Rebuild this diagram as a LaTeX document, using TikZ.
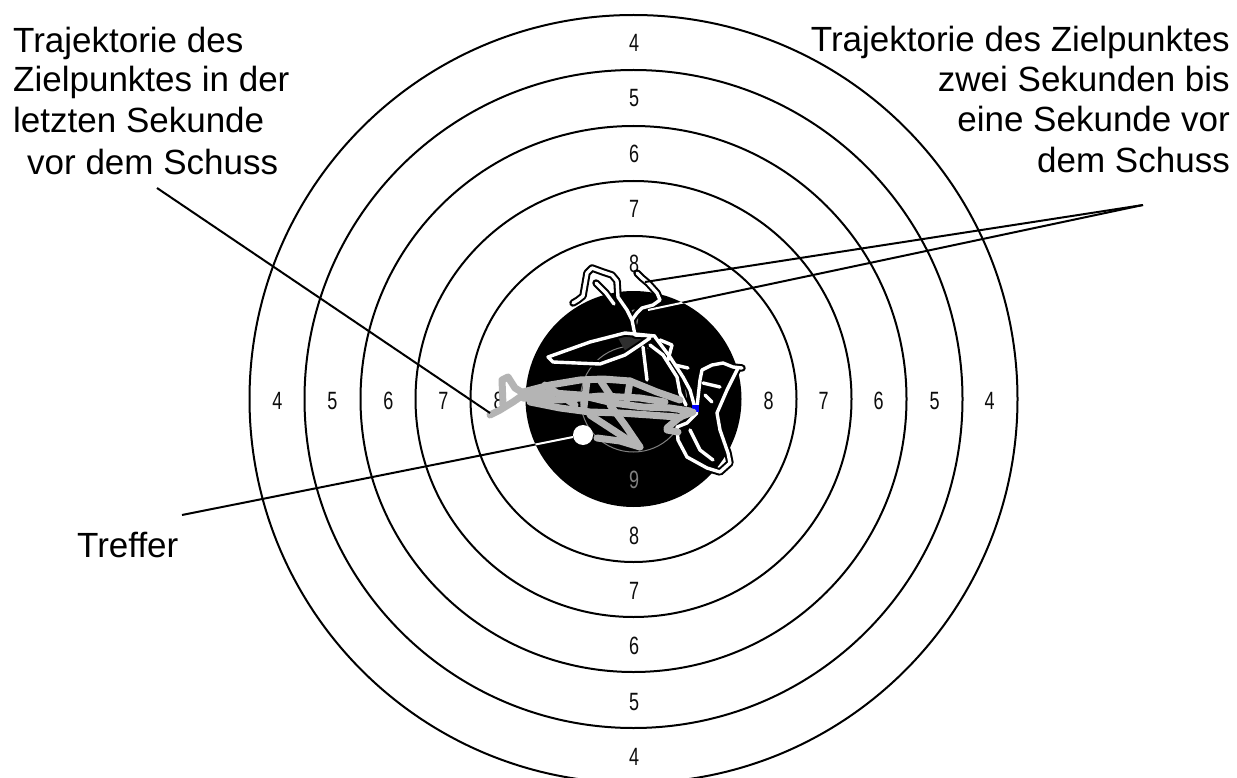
\documentclass[tikz,border=0pt]{standalone}
\usepackage{fontspec}
\setmainfont{Liberation Sans}
\newfontfamily\digitfont[FakeStretch=0.72]{Liberation Sans}
\definecolor{trajgrey}{HTML}{B4B4B4}
\definecolor{wedgegrey}{HTML}{2E2E2E}
\begin{document}
\begin{tikzpicture}[x=1pt,y=-1pt,
  ring/.style={draw=black,line width=2pt},
  num/.style={font=\digitfont\fontsize{25}{25}\selectfont,text=black!95,inner sep=0pt},
  innum/.style={num,text=black!50},
  lbl/.style={font=\fontsize{35}{40}\selectfont,inner sep=0pt},
  leader/.style={line width=2pt},
  wout/.style={draw=black,line width=7.5pt,line join=round,line cap=round},
  win/.style={draw=white,line width=3.4pt,line join=round,line cap=round},
  gtraj/.style={draw=trajgrey,line width=7pt,line join=round,line cap=round}]
\useasboundingbox (0,0) rectangle (1237,778);
\fill[white] (0,0) rectangle (1237,778);
\coordinate (c) at (633.5,399);
% rings
\foreach \r in {384,329,273,218,163} {\draw[ring] (c) circle[radius=\r pt];}
\fill[black] (c) circle[radius=108pt];
\draw[black!50,line width=1pt] (c) circle[radius=53pt];
% ring numbers
\foreach \n/\r in {4/356,5/301,6/245,7/190,8/135} {
  \node[num] (nl\n) at (633.5-\r,401) {\n};
  \node[num] (nr\n) at (633.5+\r,401) {\n};
  \node[num] (nt\n) at (634,399-\r) {\n};
  \node[num] (nb\n) at (634,401+\r) {\n};
}
\node[innum] (nt9) at (634,319) {9};
\node[innum] (nb9) at (634,480) {9};
% dark wedge
\fill[wedgegrey] (618,338) -- (632,333) -- (645,337) -- (640,350) -- (628,356) -- cycle;
% white trajectory (two seconds to one second before the shot)
\foreach \s in {wout,win} {
  \draw[\s] (573,303) -- (578,300) -- (583,296) -- (587,273) -- (592,268) -- (603,272) -- (612,275) -- (617,281) -- (618,297) -- (627,310) -- (632,320) -- (635,335);
  \draw[\s] (596,283) -- (606,293) -- (614,304);
  \draw[\s] (632,320) -- (637,313) -- (642,308) -- (653,305) -- (660,300) -- (657,293) -- (648,283) -- (642,278) -- (637,273);
  \draw[\s] (635,335) -- (655,336) -- (625,333) -- (590,342) -- (548,357) -- (553,362) -- (600,364) -- (625,355) -- (640,345) -- (650,338);
  \draw[\s] (655,337) -- (670,357) -- (683,377) -- (690,390) -- (695,408);
  \draw[\s] (650,345) -- (663,355) -- (677,377) -- (680,393) -- (686,405);
  \draw[\s] (643,347) -- (647,380);
  \draw[\s] (660,340) -- (672,345) -- (668,360);
  \draw[\s] (675,365) -- (688,368);
  \draw[\s] (697,407) -- (700,380) -- (702,370) -- (712,365) -- (723,363) -- (733,367) -- (742,368);
  \draw[\s] (738,368) -- (727,390) -- (717,413) -- (720,430) -- (728,453) -- (730,463) -- (720,472) -- (707,468) -- (687,457) -- (678,440) -- (677,427) -- (687,423) -- (697,413);
  \draw[\s] (690,430) -- (700,450) -- (713,460);
  \draw[\s] (703,383) -- (720,387);
  \draw[\s] (705,395) -- (712,402);
}
\fill[blue] (692,405) rectangle (699,412);
% grey trajectory (last second before the shot)
\draw[gtraj] (490,415) -- (500,410) -- (513,402) -- (523,395) -- (553,393) -- (580,395) -- (613,403) -- (643,407) -- (670,408) -- (690,411);
\draw[gtraj] (503,405) -- (502,380) -- (508,377) -- (515,388) -- (523,393);
\draw[gtraj] (523,392) -- (550,385) -- (580,380) -- (603,379) -- (630,381) -- (657,392) -- (680,400);
\draw[gtraj] (530,402) -- (560,408) -- (590,412) -- (620,413) -- (650,415) -- (677,417);
\draw[gtraj] (523,398) -- (560,400) -- (600,396) -- (640,398) -- (665,402);
\draw[gtraj] (545,385) -- (560,395) -- (575,405);
\draw[gtraj] (600,380) -- (610,395);
\draw[gtraj] (610,405) -- (625,425) -- (640,447);
\draw[gtraj] (590,415) -- (610,428) -- (633,443);
\draw[gtraj] (597,438) -- (620,441) -- (640,447);
\draw[gtraj] (587,380) -- (584,407);
\draw[gtraj] (630,381) -- (627,400);
\draw[gtraj] (667,428) -- (680,417) -- (693,412);
\draw[gtraj] (667,430) -- (678,432);
% hit
\node[circle,fill=white,minimum size=20pt,inner sep=0pt] (hit) at (583,435) {};
% leaders
\coordinate (l1s) at (157,188);
\coordinate (l1e) at (490,413);
\coordinate (rs) at (1143,205);
\coordinate (r1e) at (645,282);
\coordinate (r2e) at (648,310);
\coordinate (ts) at (182,515);
\draw[leader] (l1s) -- (l1e);
\draw[leader] (rs) -- (r1e);
\draw[leader] (rs) -- (r2e);
\draw[leader] (ts) -- (hit);
\begin{scope}
  \clip (c) circle[radius=108pt];
  \draw[leader,white] (rs) -- (r1e);
  \draw[leader,white] (rs) -- (r2e);
  \draw[leader,white] (ts) -- (hit);
\end{scope}
% labels
\node[lbl,anchor=base west] (a1) at (13,53) {Trajektorie des};
\node[lbl,anchor=base west] (a2) at (13,92) {Zielpunktes in der};
\node[lbl,anchor=base west] (a3) at (13,133) {letzten Sekunde};
\node[lbl,anchor=base west] (a4) at (27,175) {vor dem Schuss};
\node[lbl,anchor=base east] (b1) at (1230,52) {Trajektorie des Zielpunktes};
\node[lbl,anchor=base east] (b2) at (1230,92) {zwei Sekunden bis};
\node[lbl,anchor=base east] (b3) at (1230,132) {eine Sekunde vor};
\node[lbl,anchor=base east] (b4) at (1230,173) {dem Schuss};
\node[lbl,anchor=base west] (tr) at (77,557) {Treffer};
\end{tikzpicture}
\end{document}
